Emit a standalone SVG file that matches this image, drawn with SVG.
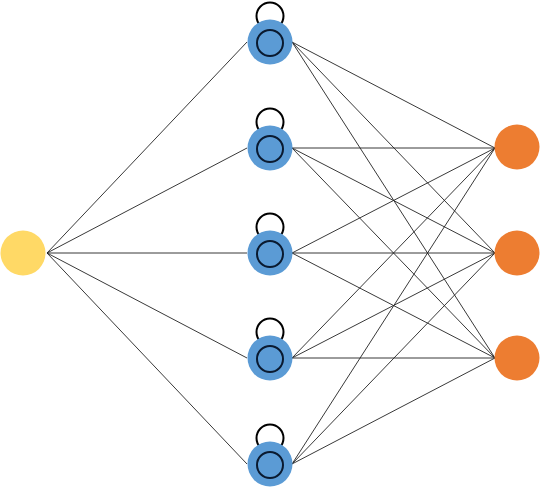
<svg xmlns="http://www.w3.org/2000/svg" width="540" height="488" viewBox="0 0 540 488">
<style>
.e{stroke:#222;stroke-width:0.9;fill:none}
.in{fill:#FFD966}
.hid{fill:#5B9BD5}
.out{fill:#ED7D31}
.ring{fill:none;stroke:#0a1a30;stroke-width:2}
.loop{fill:none;stroke:#000;stroke-width:2}
</style>
<g id="connectors">
<path class="e" d="M47 253L247 42M47 253L247 148M47 253L247 253M47 253L247 358M47 253L247 464"/>
<path class="e" d="M292 42L495 148M292 42L495 253M292 42L495 358
M292 148L495 148M292 148L495 253M292 148L495 358
M292 253L495 148M292 253L495 253M292 253L495 358
M292 358L495 148M292 358L495 253M292 358L495 358
M292 464L495 148M292 464L495 253M292 464L495 358"/>
</g>
<g id="input"><circle class="in" cx="23" cy="253" r="22.5"/></g>
<g id="h1"><circle class="loop" cx="270" cy="16" r="13.5"/><circle class="hid" cx="270" cy="42" r="22.5"/><circle class="ring" cx="270" cy="43" r="13"/></g>
<g id="h2"><circle class="loop" cx="270" cy="122" r="13.5"/><circle class="hid" cx="270" cy="148" r="22.5"/><circle class="ring" cx="270" cy="149" r="13"/></g>
<g id="h3"><circle class="loop" cx="270" cy="227" r="13.5"/><circle class="hid" cx="270" cy="253" r="22.5"/><circle class="ring" cx="270" cy="254" r="13"/></g>
<g id="h4"><circle class="loop" cx="270" cy="332" r="13.5"/><circle class="hid" cx="270" cy="358" r="22.5"/><circle class="ring" cx="270" cy="359" r="13"/></g>
<g id="h5"><circle class="loop" cx="270" cy="438" r="13.5"/><circle class="hid" cx="270" cy="464" r="22.5"/><circle class="ring" cx="270" cy="465" r="13"/></g>
<g id="o1"><circle class="out" cx="517" cy="147" r="22.5"/></g>
<g id="o2"><circle class="out" cx="517" cy="253" r="22.5"/></g>
<g id="o3"><circle class="out" cx="517" cy="358" r="22.5"/></g>
</svg>
